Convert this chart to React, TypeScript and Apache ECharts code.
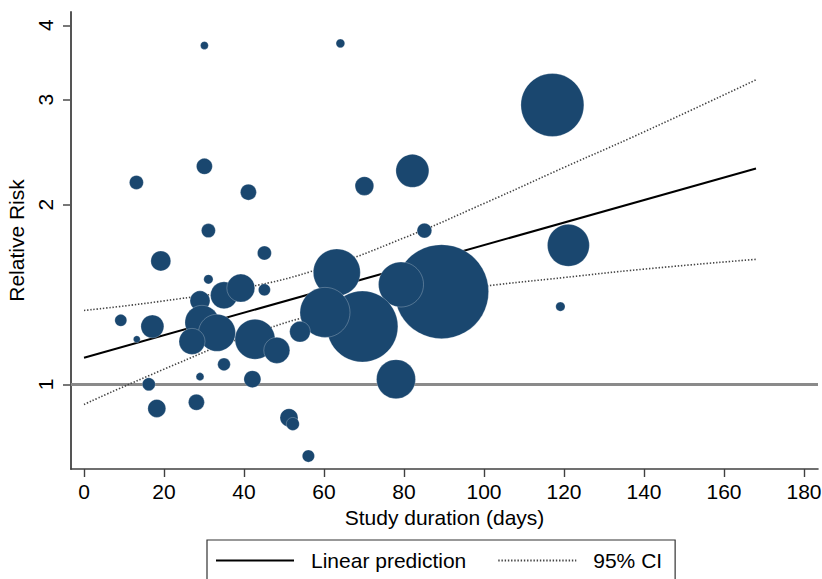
import React, { useEffect, useRef } from "react";
import * as echarts from "echarts";

// Study-level data (duration in days, relative risk, study weight)
const durationDays = [
  30.1, 64.1, 117.1, 82.1, 70.1, 85.1, 30.1, 13.1, 41.1, 31.1,
  121.1, 119.1, 89.4, 79.25, 63.2, 69.6, 60.25, 54, 78, 51.25,
  52.2, 56.1, 19.2, 45.1, 31.1, 35, 39.2, 45.1, 29, 9.2,
  17.1, 13.2, 29.5, 33.25, 27, 42.75, 48.2, 35, 29, 42.1,
  16.2, 18.2, 28.1,
];
const relativeRisk = [
  3.7, 3.73, 2.94, 2.28, 2.15, 1.81, 2.32, 2.18, 2.1, 1.81,
  1.71, 1.35, 1.43, 1.47, 1.54, 1.25, 1.32, 1.225, 1.02, 0.879,
  0.858, 0.758, 1.61, 1.66, 1.5, 1.41, 1.45, 1.44, 1.38, 1.28,
  1.25, 1.19, 1.27, 1.22, 1.18, 1.19, 1.14, 1.08, 1.03, 1.02,
  1.0, 0.911, 0.933,
];
const studyWeight = [
  0.64, 0.76, 39.7, 10.9, 3.5, 2.16, 2.56, 1.96, 2.56, 1.96,
  17.6, 0.86, 88.4, 20.3, 22.1, 50.4, 25, 4.3, 15.2, 3.24,
  1.69, 1.51, 4, 1.96, 0.86, 7.3, 7.84, 1.44, 4, 1.44,
  5.3, 0.49, 11.6, 13.7, 6.8, 16, 6.8, 1.6, 0.64, 2.9,
  1.69, 3.24, 2.56,
];

// Linear prediction (meta-regression) and 95% CI
const predictionDays = [0, 168];
const predictionRR = [1.108, 2.3];
const ciDays = [0, 20, 40, 60, 80, 100, 120, 140, 168];
const ciUpperRR = [1.33, 1.38, 1.45, 1.57, 1.76, 2.01, 2.31, 2.65, 3.24];
const ciLowerRR = [0.925, 1.06, 1.2, 1.32, 1.4, 1.46, 1.51, 1.56, 1.62];

// Axis ticks
const xTicks = [0, 20, 40, 60, 80, 100, 120, 140, 160, 180];
const yTicks = [1, 2, 3, 4];
const xRange = [-3.25, 183.5];
const yRange = [0.721, 4.21];

const FONT = "'Liberation Sans', Arial, Helvetica, sans-serif";
const NAVY = "#1a476f";

export default function App() {
  const ref = useRef<HTMLDivElement>(null);

  useEffect(() => {
    if (!ref.current) return;
    const chart = echarts.init(ref.current, undefined, { renderer: "svg" });

    const bubbles = durationDays.map((d, i) => [d, Math.log(relativeRisk[i]), studyWeight[i]]);
    const prediction = predictionDays.map((d, i) => [d, Math.log(predictionRR[i])]);
    const upper = ciDays.map((d, i) => [d, Math.log(ciUpperRR[i])]);
    const lower = ciDays.map((d, i) => [d, Math.log(ciLowerRR[i])]);

    const dotted = { color: "#444", width: 1.6, type: [1.4, 1.8] as any, cap: "butt" as const };

    chart.setOption({
      animation: false,
      backgroundColor: "#ffffff",
      textStyle: { fontFamily: FONT },
      grid: {
        left: 71,
        right: 4,
        top: 12,
        bottom: 110,
        containLabel: false,
        outerBoundsMode: "none",
      },
      xAxis: {
        type: "value",
        min: xRange[0],
        max: xRange[1],
        name: "Study duration (days)",
        nameLocation: "middle",
        nameGap: 35,
        nameTextStyle: { fontSize: 21, color: "#000", fontFamily: FONT },
        axisLine: { onZero: false, lineStyle: { color: "#404040", width: 1.6 } },
        axisTick: { customValues: xTicks, length: 8, lineStyle: { color: "#404040", width: 1.4 } },
        axisLabel: {
          customValues: xTicks,
          margin: 12,
          fontSize: 21,
          color: "#000",
          fontFamily: FONT,
        },
        splitLine: { show: false },
      },
      yAxis: {
        type: "value",
        min: Math.log(yRange[0]),
        max: Math.log(yRange[1]),
        name: "Relative Risk",
        nameLocation: "middle",
        nameGap: 33,
        nameTextStyle: { fontSize: 21, color: "#000", fontFamily: FONT },
        axisLine: { onZero: false, lineStyle: { color: "#555", width: 2 } },
        axisTick: { customValues: yTicks.map((v) => Math.log(v)), length: 8, lineStyle: { color: "#555", width: 1.6 } },
        axisLabel: {
          customValues: yTicks.map((v) => Math.log(v)),
          rotate: 90,
          margin: 15,
          align: "center",
          verticalAlign: "bottom",
          fontSize: 21,
          color: "#000",
          fontFamily: FONT,
          formatter: (v: number) => String(Math.round(Math.exp(v))),
        },
        splitLine: { show: false },
      },
      legend: {
        data: [
          { name: "Linear prediction", itemStyle: { opacity: 0 } },
          { name: "95% CI", itemStyle: { opacity: 0 } },
        ],
        left: 207,
        top: 540,
        orient: "horizontal",
        itemWidth: 78,
        itemHeight: 14,
        itemGap: 31,
        padding: [10, 13, 30, 8],
        borderColor: "#333",
        borderWidth: 1.2,
        itemStyle: { opacity: 0 },
        textStyle: { fontSize: 21, color: "#000", fontFamily: FONT, padding: [0, 0, 0, 12] },
        selectedMode: false,
      },
      series: [
        {
          name: "95% CI",
          type: "line",
          data: upper,
          showSymbol: false,
          symbol: "none",
          smooth: true,
          itemStyle: { color: "#444" },
          lineStyle: dotted,
          silent: true,
          z: 2,
        },
        {
          name: "95% CI",
          type: "line",
          data: lower,
          showSymbol: false,
          symbol: "none",
          smooth: true,
          itemStyle: { color: "#444" },
          lineStyle: dotted,
          silent: true,
          z: 2,
        },
        {
          name: "Linear prediction",
          type: "line",
          data: prediction,
          showSymbol: false,
          symbol: "none",
          itemStyle: { color: "#000" },
          lineStyle: { color: "#000", width: 2, type: "solid" },
          silent: true,
          z: 2,
          markLine: {
            silent: true,
            symbol: "none",
            label: { show: false },
            lineStyle: { color: "#8a8a8a", width: 3, type: "solid" },
            data: [{ yAxis: 0 }],
            z: 1,
          },
        },
        {
          name: "Studies",
          type: "scatter",
          data: bubbles,
          symbol: "circle",
          symbolSize: (v: number[]) => 10 * Math.sqrt(v[2]),
          itemStyle: { color: NAVY, opacity: 1, borderColor: "rgba(255,255,255,0.5)", borderWidth: 0.5 },
          silent: true,
          z: 5,
        },
      ],
    });

    return () => chart.dispose();
  }, []);

  return <div ref={ref} style={{ width: 822, height: 579, position: "absolute", left: 0, top: 0 }} />;
}
